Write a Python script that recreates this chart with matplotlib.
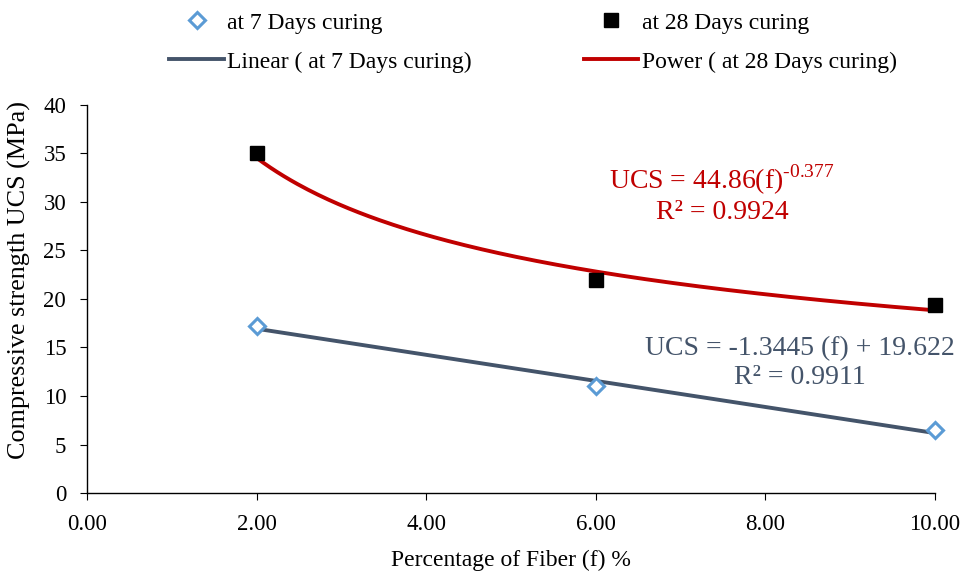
import matplotlib.pyplot as plt
import numpy as np

plt.rcParams['font.family'] = ['Liberation Serif', 'DejaVu Serif']
plt.rcParams['mathtext.fontset'] = 'custom'
plt.rcParams['mathtext.rm'] = 'Liberation Serif'

# Data
fiber = [2, 6, 10]
ucs_7 = [17.2, 11.0, 6.5]
ucs_28 = [35.0, 22.0, 19.4]

# Trendline coefficients shown on the chart
lin_slope, lin_icpt = -1.3445, 19.622
pow_a, pow_b = 44.86, -0.377

x_ticks = [0, 2, 4, 6, 8, 10]
y_ticks = [0, 5, 10, 15, 20, 25, 30, 35, 40]

fig = plt.figure(figsize=(9.65, 5.73), dpi=100)
ax = fig.add_axes([0.0902, 0.1396, 0.8788, 0.6772])

xf = np.linspace(min(fiber), max(fiber), 200)
ax.plot(xf, lin_slope * xf + lin_icpt, color='#44546A', lw=2.8,
        label='Linear ( at 7 Days curing)', zorder=2)
ax.plot(xf, pow_a * xf ** pow_b, color='#C00000', lw=2.8,
        label='Power ( at 28 Days curing)', zorder=2)
ax.plot(fiber, ucs_7, ls='none', marker='D', ms=8, mfc='white', mec='#5B9BD5',
        mew=2.2, label='at 7 Days curing', zorder=3, clip_on=False)
ax.plot(fiber, ucs_28, ls='none', marker='s', ms=10, color='black',
        label='at 28 Days curing', zorder=3, clip_on=False)

ax.set_xlim(0, 10)
ax.set_ylim(0, 40)
ax.set_xticks(x_ticks)
ax.set_xticklabels(['%.2f' % v for v in x_ticks])
ax.set_yticks(y_ticks)
ax.tick_params(labelsize=16.5, direction='out', length=5, color='black')
ax.tick_params(axis='x', pad=10)
ax.tick_params(axis='y', pad=10)
for s in ['top', 'right']:
    ax.spines[s].set_visible(False)
for s in ['left', 'bottom']:
    ax.spines[s].set_color('black')
    ax.spines[s].set_linewidth(1.0)

ax.set_xlabel('Percentage of Fiber (f) %', fontsize=17, labelpad=11)
ax.set_ylabel('Compressive strength UCS (MPa)', fontsize=18.8)
ax.yaxis.set_label_coords(-0.066, 0.55)

ax.text(0.749, 0.771, 'UCS = 44.86(f)$^{\\text{-0.377}}$\nR² = 0.9924',
        transform=ax.transAxes, ha='center', va='center', fontsize=20,
        color='#C00000', linespacing=1.15)
ax.text(0.841, 0.335, 'UCS = -1.3445 (f) + 19.622\nR² = 0.9911',
        transform=ax.transAxes, ha='center', va='center', fontsize=20,
        color='#44546A', linespacing=1.2)

h, l = ax.get_legend_handles_labels()
order = [2, 0, 3, 1]
ax.legend([h[i] for i in order], [l[i] for i in order], ncol=2, frameon=False,
          fontsize=17, loc='upper left', bbox_to_anchor=(0.086, 1.264),
          handlelength=2.3, handletextpad=0.15, columnspacing=4.75,
          labelspacing=0.75, borderaxespad=0)

fig.savefig('out.png', dpi=100)
